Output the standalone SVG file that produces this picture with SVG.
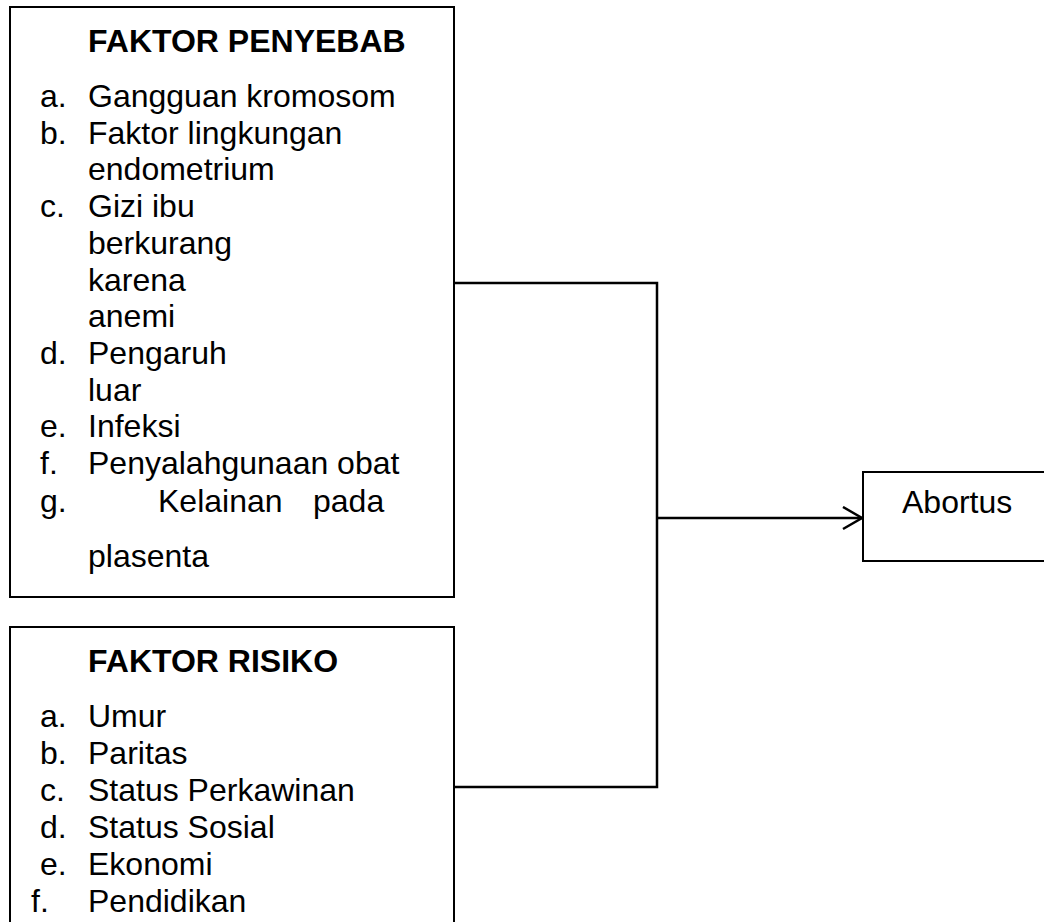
<svg xmlns="http://www.w3.org/2000/svg" width="1044" height="922" viewBox="0 0 1044 922">
<style>
  .box { fill: #fff; stroke: #000; stroke-width: 2; }
  .t { font-family: "Liberation Sans", Arial, sans-serif; font-size: 32px; fill: #000; }
  .b { font-weight: bold; }
  .ln { fill: none; stroke: #000; stroke-width: 2.5; }
</style>
<defs>
  <marker id="arr" markerUnits="userSpaceOnUse" markerWidth="24" markerHeight="26" refX="20" refY="12" orient="auto">
    <path d="M1,1 L20,12 L1,23" fill="none" stroke="#000" stroke-width="2.5"/>
  </marker>
</defs>
<rect width="1044" height="922" fill="#fff"/>

<g id="connectors">
  <polyline class="ln" points="454,283 657,283 657,787 454,787"/>
  <line class="ln" x1="657" y1="518" x2="862" y2="518" marker-end="url(#arr)"/>
</g>

<g id="faktor-penyebab">
  <rect class="box" x="10" y="7" width="444" height="590"/>
  <text class="t b" x="88" y="52">FAKTOR PENYEBAB</text>
  <text class="t" x="40" y="107">a.</text><text class="t" x="88" y="107">Gangguan kromosom</text>
  <text class="t" x="40" y="143.7">b.</text><text class="t" x="88" y="143.7">Faktor lingkungan</text>
  <text class="t" x="88" y="180.4">endometrium</text>
  <text class="t" x="40" y="217.1">c.</text><text class="t" x="88" y="217.1">Gizi ibu</text>
  <text class="t" x="88" y="253.8">berkurang</text>
  <text class="t" x="88" y="290.5">karena</text>
  <text class="t" x="88" y="327.2">anemi</text>
  <text class="t" x="40" y="363.9">d.</text><text class="t" x="88" y="363.9">Pengaruh</text>
  <text class="t" x="88" y="400.6">luar</text>
  <text class="t" x="40" y="437.3">e.</text><text class="t" x="88" y="437.3">Infeksi</text>
  <text class="t" x="40" y="474">f.</text><text class="t" x="88" y="474">Penyalahgunaan obat</text>
  <text class="t" x="40" y="511.5">g.</text><text class="t" x="158" y="511.5">Kelainan</text><text class="t" x="313" y="511.5">pada</text>
  <text class="t" x="88" y="567">plasenta</text>
</g>

<g id="faktor-risiko">
  <rect class="box" x="10" y="627" width="444" height="320"/>
  <text class="t b" x="88" y="672">FAKTOR RISIKO</text>
  <text class="t" x="40" y="727">a.</text><text class="t" x="88" y="727">Umur</text>
  <text class="t" x="40" y="764">b.</text><text class="t" x="88" y="764">Paritas</text>
  <text class="t" x="40" y="801">c.</text><text class="t" x="88" y="801">Status Perkawinan</text>
  <text class="t" x="40" y="838">d.</text><text class="t" x="88" y="838">Status Sosial</text>
  <text class="t" x="40" y="875">e.</text><text class="t" x="88" y="875">Ekonomi</text>
  <text class="t" x="31" y="912">f.</text><text class="t" x="88" y="912">Pendidikan</text>
</g>

<g id="abortus">
  <rect class="box" x="863" y="472" width="200" height="89"/>
  <text class="t" x="902" y="513">Abortus</text>
</g>
</svg>
